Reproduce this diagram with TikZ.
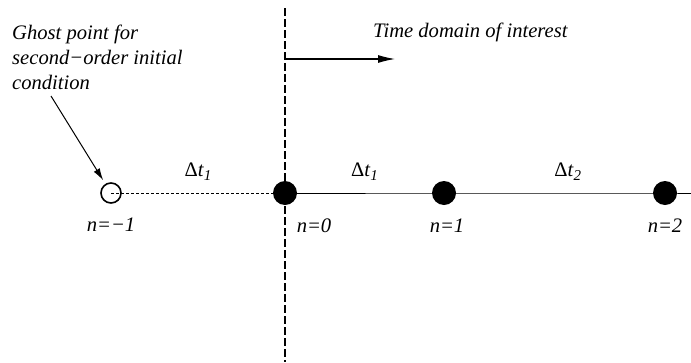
\documentclass[tikz,border=0pt]{standalone}
\usepackage{fontspec}
\setmainfont{Liberation Serif}
\usetikzlibrary{positioning,arrows.meta}

\begin{document}
\begin{tikzpicture}[
    x=1pt, y=-1pt,
    every node/.style={font=\fontsize{20.6}{25}\selectfont\itshape},
    dot/.style={
        circle,
        fill=black,
        inner sep=0pt,
        outer sep=0pt,
        minimum size=24pt
    },
    ghostdot/.style={
        circle,
        draw,
        line width=1.6pt,
        inner sep=0pt,
        minimum size=20pt
    },
    nlabel/.style={inner sep=0pt, text height=13pt, text depth=0pt},
    dlabel/.style={font=\fontsize{20.6}{25}\selectfont, anchor=base, yshift=17pt, inner sep=0pt},
    arrow/.style={-{Latex[length=17pt,width=8pt]}, line width=1.1pt}
]
\useasboundingbox (0,0) rectangle (691,362);

% time axis and the boundary of the domain
\coordinate (vtop) at (285,8);
\coordinate (vbot) at (285,362);
\coordinate (hend) at (691,193);
\draw[line width=1.4pt, dash pattern=on 8pt off 3pt] (vtop) -- (vbot);

\node[ghostdot] (g) at (111,193) {};
\node[dot] (d0) at (285,193) {};
\node[dot] (d1) at (444,193) {};
\node[dot] (d2) at (665,193) {};

\draw[line width=0.8pt, dash pattern=on 3pt off 2pt] (g.center) --
    node[dlabel] {Δ\textit{t}\raisebox{-0.45ex}{\fontsize{15}{15}\selectfont\itshape 1}}
    (d0.center);
\draw[line width=0.9pt] (d0.center) --
    node[dlabel] {Δ\textit{t}\raisebox{-0.45ex}{\fontsize{15}{15}\selectfont\itshape 1}}
    (d1.center) --
    node[dlabel, pos=0.56] {Δ\textit{t}\raisebox{-0.45ex}{\fontsize{15}{15}\selectfont\itshape 2}}
    (d2.center) -- (hend);

\node[nlabel, below=14pt of g] (lg) {n=\textminus1};
\node[nlabel, below=14pt of d0, xshift=29pt] (l0) {n=0};
\node[nlabel, below=14pt of d1, xshift=3pt] (l1) {n=1};
\node[nlabel, below=14pt of d2] (l2) {n=2};

% ghost point note
\node[anchor=north west, align=left, inner sep=0pt] (note) at (12,25)
    {Ghost point for\\second\textminus order initial\\condition};
\coordinate (callout) at (51,96);
\draw[-{Latex[length=12pt,width=7pt]}, line width=1pt, shorten >=15pt] (callout) -- (g.center);

% direction of time
\coordinate (tstart) at (285,59);
\coordinate (tend) at (395,59);
\draw[arrow] (tstart) -- (tend);
\node[anchor=base west, inner sep=0pt] (tdom) at (373,37) {Time domain of interest};

\end{tikzpicture}
\end{document}
